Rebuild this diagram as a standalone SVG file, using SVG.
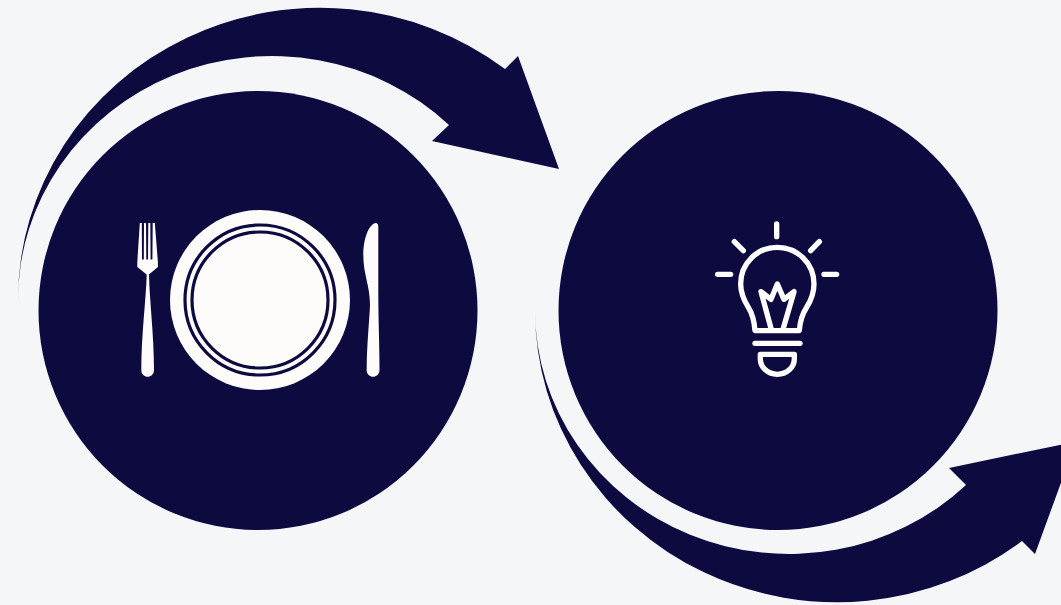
<svg xmlns="http://www.w3.org/2000/svg" width="1061" height="605" viewBox="0 0 1061 605">
<style>
.dark{fill:#0c0a3f}
.white{fill:#fefbfb}
.ring{fill:none;stroke:#0c0a3f;stroke-width:3.200}
.line{fill:none;stroke:#fff;stroke-width:16;stroke-linecap:round;stroke-linejoin:round}
</style>
<rect width="1061" height="605" fill="#f4f6f8"/>
<g id="connectors">
<path class="dark" d="M18,300 A302,292 0 0 1 505,69 L518,56 L559,169 L432,141 L449,125 A254,244 0 0 0 18,300 Z"/>
<path class="dark" d="M535,310 A302,292 0 0 0 1022,541 L1035,554 L1076,441.500 L949,468 L966,485 A254,244 0 0 1 535,310 Z"/>
</g>
<g id="node-meal">
<circle class="dark" cx="258" cy="310.500" r="219.500"/>
<circle class="white" cx="260" cy="300" r="90"/>
<circle class="ring" cx="260" cy="300" r="75"/>
<circle class="ring" cx="260" cy="300" r="68"/>
<path class="white" d="M139.800,223 L141.800,223 L142,259.500 L143.800,259.500 L144,223 L146,223 L146.300,259.500 L148,259.500 L148.300,223 L150.300,223 L150.600,259.500 L152.400,259.500 L152.700,223 L154.800,223 L157.900,262 L157.900,267 L149,274.500 C149.500,300 154,335 154,370 C154,379 141.300,379 141.300,370 C141.300,335 146,300 146.700,274.500 L137.300,267 L137.300,262 Z"/>
<path class="white" d="M375.500,223 C377.500,223 378.300,224.500 378.300,227 L378.300,290 C378.300,320 379.500,345 379.500,370 C379.500,379 366.700,379 366.700,370 C366.700,345 369.500,320 370,305 C370,285 363.300,275 363.300,255 C363.300,240 368,225 375.500,223 Z"/>
</g>
<g id="node-idea">
<circle class="dark" cx="778" cy="310.500" r="219.500"/>
<g transform="translate(700,210) scale(0.3333)">
<path class="line" d="M230,42 V80 M103,95 L130,122 M358,95 L332,122 M53,193 H92 M372,193 H410"/>
<path class="line" d="M165,362 H298 C300,335 305,315 320,292 C335,268 342,250 342,222 C342,160 292,112 232,112 C172,112 122,160 122,222 C122,250 130,268 145,292 C160,315 163,335 165,362 Z"/>
<path class="line" d="M213,355 L183,245 L213,268 L232,222 L252,268 L282,245 L250,355"/>
<path class="line" d="M165,400 H300"/>
<path class="line" d="M181,433 H283 V447 A51,46 0 0 1 181,447 Z"/>
</g>
</g>
</svg>
